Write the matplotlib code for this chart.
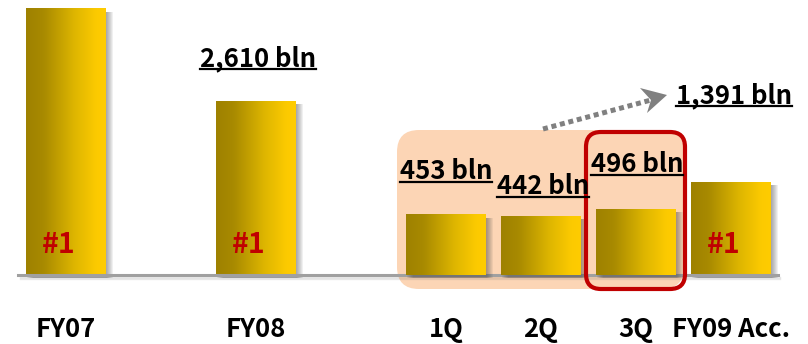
import numpy as np
import matplotlib
matplotlib.use("Agg")
import matplotlib.pyplot as plt
from matplotlib.colors import LinearSegmentedColormap
from matplotlib.patches import Rectangle, FancyBboxPatch, Polygon
from matplotlib.lines import Line2D
from matplotlib.transforms import offset_copy, blended_transform_factory, IdentityTransform

# yearly totals (bln) and quarterly results (bln)
years = ["FY07", "FY08", "FY09 Acc."]
year_pos = [0, 2, 7]
year_vals = [4000, 2610, 1391]
year_rank = ["#1", "#1", "#1"]
year_labels = ["", "2,610 bln", "1,391 bln"]

quarters = ["1Q", "2Q", "3Q"]
quarter_pos = [4, 5, 6]
quarter_vals = [453, 442, 496]
quarter_labels = ["453 bln", "442 bln", "496 bln"]

W, H = 808, 344
fig = plt.figure(figsize=(W / 100, H / 100), dpi=100)
ax = fig.add_axes([18 / W, 69 / H, 760 / W, 275 / H])
ax2 = ax.twinx()  # quarters use a zoomed scale

gold = LinearSegmentedColormap.from_list(
    "gold", [(0, "#9E8100"), (0.22, "#A88A00"), (0.6, "#DDB500"), (0.88, "#FCCA00"), (1, "#FFCC00")])
grad = np.linspace(0, 1, 256).reshape(1, -1)
bw = 0.84


def bar(a, x, h):
    x0 = x - bw / 2
    # soft shadow on the right
    for k in range(1, 8):
        tr = offset_copy(a.transData, fig=fig, x=k, y=-3, units="dots")
        a.add_patch(Rectangle((x0, 0), bw, h, transform=tr, color="#404040",
                              alpha=0.08, lw=0, zorder=1, clip_on=False))
    a.imshow(grad, extent=(x0, x0 + bw, 0, h), aspect="auto", cmap=gold,
             origin="lower", zorder=2, interpolation="bicubic")


# baseline with a faint shadow under it
ax.axhline(0, color="#A0A0A0", lw=2.2, zorder=3, clip_on=False)
for k in (2, 3, 4):
    ax.add_line(Line2D([0, 1], [0, 0], color="#606060", lw=1, alpha=0.12, zorder=1,
                       clip_on=False,
                       transform=offset_copy(ax.transAxes, fig=fig, x=2, y=-k, units="dots")))
for p, v in zip(year_pos, year_vals):
    bar(ax, p, v)
for p, v in zip(quarter_pos, quarter_vals):
    bar(ax2, p, v)

for a in (ax, ax2):
    a.set_xlim(-0.505, 7.495)
    a.axis("off")
ax.set_ylim(0, 4130)
ax2.set_ylim(0, 2068)


def fy(y):
    return 1 - y / H


bt = blended_transform_factory(ax.transData, fig.transFigure)
bold = dict(family=["Noto Sans CJK KR", "DejaVu Sans"], fontweight="bold")

# category labels
for p, c in zip(year_pos + quarter_pos, years + quarters):
    ax.text(p, fy(337), c, transform=bt, ha="center", va="baseline",
            fontsize=18.5, color="black", **bold)

# rank marks inside the yearly bars
for p, r in zip(year_pos, year_rank):
    ax.text(p - 0.08, fy(253), r, transform=bt, ha="center", va="baseline",
            fontsize=20.5, color="#C00000", zorder=4, **bold)

# value labels, underlined
value_texts = []
for p, s, yb in [(2.02, year_labels[1], 66), (7.03, year_labels[2], 103),
                 (4, quarter_labels[0], 179), (5.02, quarter_labels[1], 194),
                 (6.01, quarter_labels[2], 172)]:
    t = fig.text(0, 0, s, transform=bt, ha="center", va="baseline",
                 fontsize=18.5, color="black", zorder=6, **bold)
    t.set_position((p, fy(yb)))
    value_texts.append((t, yb))

# highlight boxes around the quarters
fig.patches.append(FancyBboxPatch((397, H - 289), 287, 159,
                                  boxstyle="round,pad=0,rounding_size=22",
                                  transform=IdentityTransform(), fc="#FCD5B5",
                                  ec="none", zorder=-1))
fig.patches.append(FancyBboxPatch((586, H - 289), 99, 157,
                                  boxstyle="round,pad=0,rounding_size=15",
                                  transform=IdentityTransform(), fc="none",
                                  ec="#C00000", lw=3, zorder=5))

# dotted arrow towards the accumulated total
fig.lines.append(Line2D([543, 651], [H - 129, H - 100], transform=IdentityTransform(),
                        color="#808080", lw=3.6, dashes=(1, 0.75),
                        dash_capstyle="butt", zorder=5))
fig.patches.append(Polygon([(667, H - 95), (640, H - 88), (651, H - 100), (647, H - 113)],
                           closed=True, transform=IdentityTransform(),
                           fc="#808080", ec="none", zorder=5))

fig.canvas.draw()
for t, yb in value_texts:
    bb = t.get_window_extent()
    fig.lines.append(Line2D([bb.x0, bb.x1], [H - yb - 3, H - yb - 3],
                            transform=IdentityTransform(), color="black",
                            lw=1.6, zorder=6))

fig.savefig("out.png", dpi=100)
